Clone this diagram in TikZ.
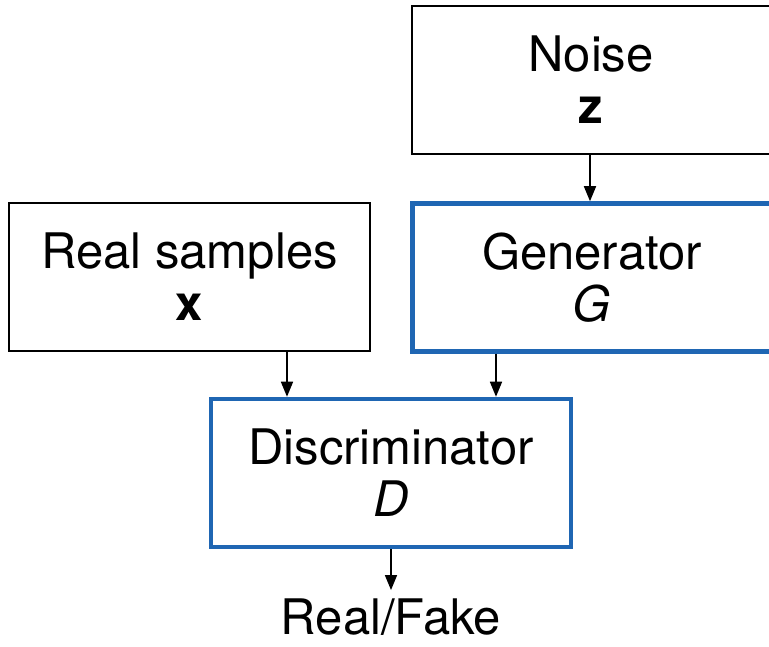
\documentclass[tikz,border=0pt]{standalone}
\usepackage{fontspec}
\setmainfont{TeX Gyre Heros}
\usetikzlibrary{arrows.meta}
\definecolor{ganblue}{HTML}{1F66B3}
\tikzset{
  x=1pt, y=1pt,
  box/.style={draw=black, line width=2pt, minimum width=#1, minimum height=148pt, inner sep=0pt,
    align=center, font=\fontsize{49}{54}\selectfont},
  box/.default=360pt,
  bluebox/.style={box=#1, draw=ganblue, line width=4.5pt},
  bluebox/.default=360pt,
  arr/.style={draw=black, line width=1.6pt, -{Triangle[length=15pt,width=12pt]}},
  lbl/.style={font=\fontsize{49}{54}\selectfont, inner sep=0pt}
}
\begin{document}
\begin{tikzpicture}
\useasboundingbox (0,0) rectangle (769,646);
% boxes (y = 646 - pixel row)
\node[box=359pt] (noise) at (591,566) {Noise\\[-2pt]\textbf{z}};
\node[bluebox=359pt] (gen) at (592,368.5) {Generator\\[-2pt]\textit{G}};
\node[box=361pt] (real) at (189.5,369) {Real samples\\[-2pt]\textbf{x}};
\node[bluebox=360pt] (disc) at (391,173) {Discriminator\\[-2pt]\textit{D}};
\node[lbl, anchor=base] (out) at (391,12) {Real/Fake};
% connector positions
\coordinate (rx) at (287,0);
\coordinate (gx) at (496,0);
\coordinate (nx) at (590,0);
% connectors
\draw[arr] (noise.south -| nx) -- (gen.north -| nx);
\draw[arr] (real.south -| rx) -- (disc.north -| rx);
\draw[arr] (gen.south -| gx) -- (disc.north -| gx);
\draw[arr, shorten >=8pt] (disc.south) -- (disc.south |- out.north);
\end{tikzpicture}
\end{document}
